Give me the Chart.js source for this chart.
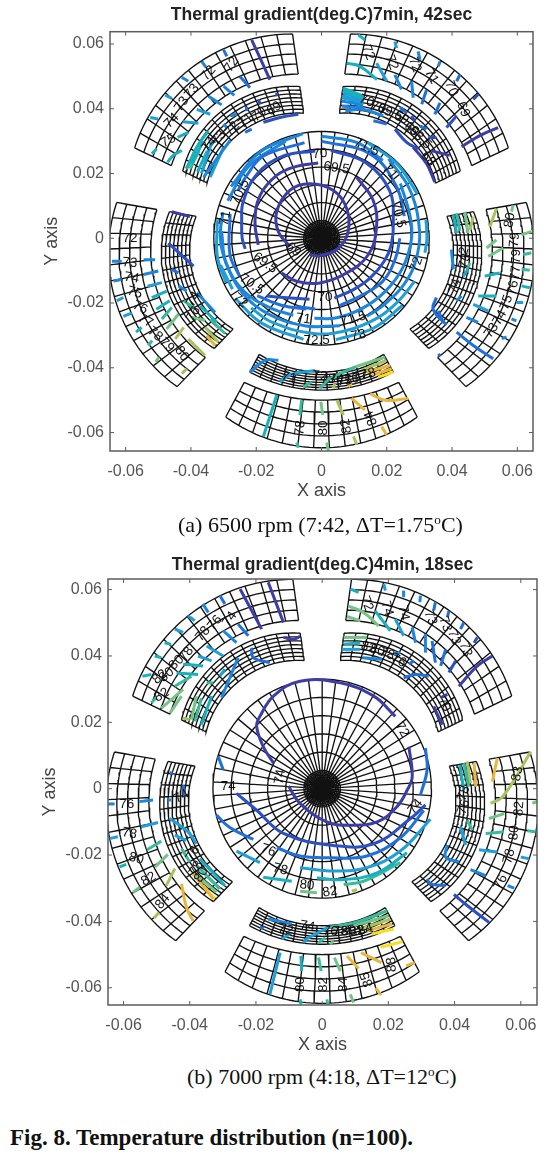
<!DOCTYPE html>
<html>
<head>
<meta charset="utf-8">
<script src="https://cdn.jsdelivr.net/npm/chart.js@4"></script>
<style>
  html, body { margin: 0; padding: 0; background: #fff; }
  body { position: relative; width: 557px; height: 1156px; overflow: hidden; }
  canvas { position: absolute; left: 0; filter: blur(0.35px); }
  #chart-a { top: 0; }
  #chart-b { top: 549px; }
  .cap { position: absolute; font-family: "Liberation Serif", serif; color: #111; white-space: nowrap; }
  .cap sup { font-size: 0.6em; line-height: 0; }
  #cap-a { left: 178px; top: 512px; font-size: 22px; }
  #cap-b { left: 187px; top: 1064px; font-size: 22px; }
  #fig { left: 10px; top: 1125px; font-size: 23px; font-weight: bold; }
</style>
</head>
<body>
<canvas id="chart-a" width="557" height="510"></canvas>
<canvas id="chart-b" width="557" height="510"></canvas>
<div class="cap" id="cap-a">(a) 6500 rpm (7:42, ΔT=1.75<sup>o</sup>C)</div>
<div class="cap" id="cap-b">(b) 7000 rpm (4:18, ΔT=12<sup>o</sup>C)</div>
<div class="cap" id="fig">Fig. 8. Temperature distribution (n=100).</div>
<script>
const tickValues = [-0.06, -0.04, -0.02, 0, 0.02, 0.04, 0.06];

// contour colours, coolest to hottest
const levelColors = ['#3c3da6', '#2b4fc4', '#1f6fdc', '#1b86de', '#1f9fd8', '#18b0bc', '#38bb9c', '#74c486', '#a8c25e', '#e8b63c', '#f6e01e'];

// mesh (mm and degrees)
const padCenters = [126, 54, -18, -90, 198];
const padHalfWidth = 28;
const padColumns = 13;
const outerRows = 4;
const innerRows = 7;
const outerCorner = [51.2, 63.7], outerMid = [52.9, 66];
const innerCorner = [39, 47.3], innerMid = [41, 49.8];
const bottomOuterCorner = [50.4, 62.5], bottomOuterMid = [50, 64.7];
const bottomInnerCorner = [40.6, 46.8], bottomInnerMid = [41.3, 46.9];
const hubRings = [0.5, 1, 1.5, 2, 2.5, 3, 3.5, 4, 4.5, 5];
const discRings = [5.5, 11, 16.5, 22, 27.5, 33];
const discSpokes = 50;

// panel (a): disc contours as [level, [[deg, r mm], ...]]
const arcsA = [
  [0, [[235,6.2],[265,5.4],[329,6],[374,8.4],[410,12],[436,15.2],[462,17.2],[483,17.7],[509,16],[531,13.4],[555,10]]],
  [0, [[186,19.5],[166,21],[145,23],[125,23.8],[109,23.5],[92.5,23.3]]],
  [0, [[60.4,21.7],[36.6,19.7],[10.3,17.1],[-19.6,15.2],[-54.5,13.2],[-92,13.8],[-120,15.3],[-139,16.3]]],
  [1, [[84,27.3],[60,27],[35,25.5],[12,22.5],[-5,21.5],[-20,20.5],[-40,19.3],[-60,18.6],[-78,18.9]]],
  [1, [[94,27],[115,28],[135,28],[155,26.5],[168,25],[180,24.3],[188,23.6]]],
  [1, [[226.7,24.5],[240,21.2],[259,19.2]]],
  [2, [[90,30],[60,30],[35,28],[15,26.3]]],
  [2, [[0,24],[-15,23.5],[-35,23],[-55,21.5],[-75,21.5]]],
  [2, [[-95,21.9],[-110,22.5]]],
  [2, [[100,30],[125,31],[140,30],[150,29.5]]],
  [2, [[165,29],[190,28.5],[205,27.7]]],
  [2, [[222,26.5],[240,24],[258,22.3]]],
  [3, [[90,31.5],[70,31.5],[52,30.5]]],
  [3, [[35,29.5],[15,28],[0,27.6],[-20,26.5],[-40,25.5],[-60,25],[-80,25],[-95,24.8]]],
  [3, [[110,32],[135,31.5],[158,31]]],
  [3, [[176,30.7],[195,30.2],[215,28.8],[235,26.5],[250,25.3]]],
  [3, [[100,32.8],[125,32.6],[150,32]]],
  [3, [[50,32],[30,31],[10,30.2],[-10,29.8],[-30,29],[-50,28],[-60,27.8]]],
  [3, [[-78,27.6],[-100,27.5],[-125,28.5],[-145,29.5],[-165,30.2],[-180,31],[-195,31.3]]],
  [4, [[-25,31.5],[-40,30.5],[-55,30],[-75,29.5],[-95,29.5],[-120,30],[-135,30.5]]],
  [4, [[-150,31.5],[-165,32]]],
  [4, [[10,32.5],[0,32.3],[-8,32]]],
  [4, [[-100,31.7],[-125,32],[-145,32.3]]],
  [4, [[-82,31.6],[-60,32],[-40,32.3]]],
  [4, [[65,32.8],[45,32.6],[25,32.4]]],
  [4, [[170,32.4],[190,32.4],[205,32.3]]],
];

// panel (a): pad contours as [level, [[x mm, y mm], ...]]
const linesA = [
  [0, [[-21.4,61.3],[-15.8,49]]], [2, [[-30,58.2],[-29,56.2]]], [2, [[-25,50],[-21.9,46.5]]],
  [3, [[-36.7,54.6],[-35.5,52.9]]], [3, [[-30,47],[-26.7,44.1]]], [3, [[-42.8,49.7],[-40.8,48.5]]],
  [3, [[-34.6,43.9],[-30.6,41.2]]], [4, [[-47.9,44.2],[-45.9,43.2]]], [4, [[-38.2,39.8],[-34.1,38.3]]],
  [4, [[-52.5,37.3],[-50,36.8]]], [4, [[-42.5,36],[-37.7,35.5]]], [5, [[-44.1,31.2],[-40.8,32.7]]],
  [5, [[-52,26.1],[-50.5,27.6]]], [5, [[-47.2,23.5],[-45.4,25.6],[-42.8,27.1]]],
  [1, [[-17.8,35.8],[-12.7,37.3],[-7.1,38.3]]], [1, [[-13.7,43.9],[-13.7,44.9]]], [1, [[-19.3,42.9],[-18.8,41.4]]],
  [2, [[-23,40.6],[-22.9,39.3]]], [2, [[-23.4,32.7],[-21.4,33.7]]], [3, [[-28,37.8],[-26,38.3]]],
  [3, [[-30,35.3],[-29,34.2]]], [3, [[-28,30.2],[-31,26.1],[-36.1,18.9]]], [4, [[-30,28.1],[-34.1,18.9]]],
  [5, [[-34.7,33.1],[-38.2,28.1],[-41.3,21.5]]], [5, [[-36.2,30.1],[-39.8,23]]], [6, [[-37.5,27],[-40.3,21.5]]],
  [4, [[-33.5,30],[-36.8,20]]], [5, [[-35,27],[-38,20.5]]], [6, [[-39,26],[-41.5,21.5]]],
  [5, [[11.3,62.8],[13.3,61.3]]], [5, [[7.7,54.1],[11.8,53.1],[17,49]]], [4, [[16.9,54.1],[20,48.5]]],
  [4, [[22.5,60.7],[23,58.7]]], [3, [[22.5,50.5],[24.5,46]]], [3, [[29.6,57.7],[30.2,55.1]]],
  [3, [[27.6,48.5],[28.1,43.4]]], [3, [[36.3,54.6],[35.8,53.1]]], [2, [[32.2,45.9],[30.7,41.4]]],
  [2, [[42.4,50.5],[41.4,48.5]]], [2, [[36.3,41.8],[34.7,38.3]]], [1, [[48,44.4],[46.5,42.9]]],
  [1, [[41.4,37.8],[38.3,34.2]]], [0, [[54.1,34.2],[48.5,31.7],[42.9,28.3]]],
  [5, [[6.7,46.4],[12.8,43.9]]], [5, [[6.5,45.6],[12.8,43.3]]], [4, [[6.7,44.9],[12.8,42.9]]], [4, [[6.4,44],[12.8,42.3]]], [4, [[6.2,43.4],[12.8,41.9]]], [3, [[6.2,42.4],[12.8,41.2]]], [3, [[6.2,40.8],[12.8,40.3]]],
  [3, [[7.3,39.3],[12.8,39.8],[18.9,37.8]]], [2, [[15.9,36.3],[20,35.3]]], [2, [[24,40.4],[26.1,38.8]]],
  [2, [[30.2,34.7],[32.2,33.7]]], [1, [[27.6,37.8],[28.6,36.2]]], [1, [[22.5,33.7],[26.1,29.6],[29.6,27.6]]],
  [0, [[28.1,28.1],[32.2,23],[34.7,17.4]]], [1, [[32.7,31.1],[35.2,31.1]]], [0, [[33.7,27],[39.3,25.6]]],
  [6, [[41.4,7.7],[42.4,2.3]]], [5, [[40.4,7.2],[41.4,1.6]]], [7, [[43.9,8.2],[44.9,1.6]]], [8, [[46.5,6.7],[45.5,2.6]]],
  [3, [[39.8,-3.5],[40.4,-9.6]]], [6, [[45.5,-7.6],[44.5,-9.6]]], [4, [[43.4,-11.7],[44.9,-9.6]]], [3, [[41.4,-19.3],[42.9,-17.8]]],
  [2, [[35.2,-18.3],[34.2,-21.9],[38.3,-26.8]]], [2, [[35.8,-22.4],[37.3,-26]]],
  [8, [[53.6,9.2],[51.6,3.6]]], [7, [[58.7,10.2],[58.2,8.2]]], [7, [[64.4,2.1],[61.3,1.1]]], [7, [[53.6,-0.5],[50.6,-3]]],
  [7, [[55.7,-3],[51.1,-5.6]]], [6, [[64.3,-4.5],[61.8,-5]]], [5, [[54.6,-10.7],[50,-11.7]]], [6, [[63.8,-9.9],[61.3,-9.6]]],
  [5, [[53.6,-17.8],[48,-17.8]]], [5, [[63.8,-15.3],[61.3,-14.7]]], [4, [[51.1,-22.4],[46.5,-20.4]]], [4, [[61.8,-19.8],[59.7,-19.8]]],
  [3, [[48,-26],[44.4,-24.4]]], [3, [[59.7,-25.5],[58.2,-24.9]]], [3, [[56.7,-30.5],[55.2,-31]]],
  [2, [[52.6,-37.2],[46.5,-33.1],[41.4,-29]]], [2, [[35.8,-35.7],[36.3,-36.4]]],
  [3, [[-21.9,-41.3],[-17.3,-37.7],[-13.2,-37.7]]], [4, [[-12.7,-44.4],[-10.2,-42.3],[-2,-40.8]]], [6, [[-5.6,-45.9],[-3,-44.4]]],
  [6, [[-0.5,-46.4],[2,-43.8],[10.3,-39.7]]], [8, [[3.6,-46.4],[4.1,-44.9]]], [7, [[10.3,-39.7],[19.5,-36.7]]],
  [8, [[12.2,-40.8],[19.9,-37.7]]], [9, [[13.8,-41.3],[21,-39.3]]], [9, [[15.4,-42.3],[21.5,-40.3]]], [10, [[17.4,-42.9],[22,-41.3]]], [9, [[8.2,-45.9],[9.2,-44.9]]],
  [5, [[-13.7,-48.4],[-17.8,-61.2]]], [6, [[-6.1,-50],[-6.6,-54.6]]], [6, [[-7.6,-63.1],[-7.1,-64.7]]], [7, [[-0.2,-50.5],[0.4,-54.6]]],
  [7, [[1.6,-63.1],[2.1,-65.6]]], [8, [[4.7,-50],[6.7,-54.6]]], [8, [[9.8,-61.2],[10.8,-63.7]]], [9, [[9.2,-49.4],[13.3,-53]]],
  [9, [[18.4,-58.1],[19.9,-60.7]]], [9, [[14.9,-48],[19.5,-50],[26.6,-49.5]]],
  [3, [[-64.2,-7.1],[-61.2,-7.1]]], [3, [[-54.5,-6.6],[-51,-6.6]]], [3, [[-63.7,-13.2],[-61.2,-12.7]]], [3, [[-54.5,-11.2],[-50,-10.1]]],
  [4, [[-62.7,-19.3],[-60.7,-18.3]]], [4, [[-53.3,-14.8],[-48.9,-13.7]]], [4, [[-60.7,-24.1],[-58.1,-23.1]]], [5, [[-52,-18.3],[-47.4,-16.3]]],
  [5, [[-56.8,-29],[-55.1,-27.5]]], [5, [[-50.6,-21.9],[-46.5,-19.3]]], [6, [[-53.1,-33.1],[-51.9,-31.6]]], [6, [[-48.9,-24.9],[-45.9,-21.4]]],
  [7, [[-47.4,-28],[-43.8,-23.4]]], [7, [[-50.8,-38.2],[-49.8,-36.7]]], [8, [[-44.8,-31.1],[-42.2,-27.5]]], [8, [[-42.8,-41.8],[-41.3,-40.3]]], [8, [[-40.8,-31.1],[-35.7,-36.2]]],
  [0, [[-45.9,8.2],[-40.3,6.7]]], [1, [[-46.9,-1.5],[-39.2,-8.6]]], [2, [[-45.9,-9.6],[-43.8,-10.7]]], [3, [[-43.8,-14.7],[-41.3,-16.3]]],
  [3, [[-38.2,-16.8],[-32.6,-22.9]]], [5, [[-37.2,-20.9],[-32.1,-25.9]]], [6, [[-42.2,-19.3],[-39.2,-21.4]]], [7, [[-39.8,-24.4],[-35.7,-25.4]]],
  [6, [[-34.1,-25],[-29.5,-29.5]]], [8, [[-35.7,-27.5],[-31.6,-32.1]]], [9, [[-35.2,-30],[-32.6,-33.1]]],
];

// contour labels as [text, x mm, y mm, rotation deg]
const labelsA = [
  ['69',-8.6,-3.5,40], ['69.5',4.6,21.7,8], ['69.5',-17.3,-7.6,35], ['70',-0.5,26.1,-5], ['70',1.1,-18.3,0],
  ['70.5',23.5,7.2,75], ['70.5',-21.4,-14.2,35], ['70.5',-24.9,14.3,-65], ['71',21,20.5,50], ['71',-29.5,6.2,-80],
  ['71',-5.6,-24.9,8], ['71.5',9.7,-24.9,-15], ['71.5',13.8,28.1,25], ['72',29.1,-8.1,-70], ['72',-24.9,-19.3,40],
  ['72.5',-1.5,-31.4,0], ['73',11.3,-30,-12],
  ['72',-27.5,53.6,-55], ['72',-34.6,51,-50], ['73',-39.7,45.4,-50], ['73',-42.8,41.4,-55], ['74',-45.9,36.3,-45], ['75',-46.9,30.1,-30],
  ['74',-34.4,29,-50], ['73',-31.4,31,-50], ['72',-27.3,33.7,-50], ['71',-23.2,36.3,-40], ['70',-19.1,38.3,-40], ['69',-14.5,40,-35],
  ['72',14.3,57.4,70], ['72',21.5,54.3,70], ['72',28.6,53.6,70], ['71',33.7,50,60], ['70',39.8,46.3,70], ['69',43.4,39.8,70],
  ['70',13.8,42.4,20], ['70',17.4,40.4,20], ['69.5',21,38.8,25], ['69',24.5,37.3,35], ['69',27.6,33.7,40], ['68.5',30.2,31.1,45], ['68',32.7,24.5,50],
  ['80',57.7,5.6,-80], ['79',59.2,-0.5,-85], ['79',59.7,-5.6,-90], ['77',59.5,-10.7,-85], ['76',58.7,-15.3,-80], ['75',56.7,-19.8,-70], ['74',54.6,-24.5,-60], ['73',52.1,-28.5,-55],
  ['72',43.4,-5,-75], ['73',43.9,-7,-75], ['74',40.9,-14.8,-70],
  ['78',-6.5,-58.6,-85], ['80',0.5,-58.6,-90], ['82',7.6,-58,-100], ['84',15.2,-55.6,-110],
  ['71',-10,-43,15], ['72',-0.5,-42.6,5], ['73',2,-43.6,0], ['74',4.6,-43.6,0], ['75',7.1,-44.1,-5], ['76',9.2,-43.6,-10], ['77',11.7,-42.6,-15], ['78',14.3,-42,-15],
  ['72',-58.7,0,0], ['73',-58.7,-7.6,5], ['74',-58.2,-12.2,10], ['75',-57.2,-16.8,15], ['76',-55.6,-21.4,25], ['77',-54,-25.5,30], ['78',-51,-29.6,40], ['79',-47.4,-33,45], ['80',-42.8,-35.7,55],
  ['74',-39.2,-18.8,-60], ['76',-39.2,-23.4,-60],
];

// panel (b)
const arcsB = [];
const linesB = [
  [0, [[-10.2,0.8],[-6.7,-4.4],[1.4,-10],[8.5,-11],[16.6,-10],[22.6,-5.4],[25.7,-0.4],[27.2,3.6],[26.2,12.7]]],
  [0, [[22.1,21.8],[15.6,27.9],[5.5,31.9],[-6.7,32.4],[-14.7,27.9],[-18.8,21.8],[-19.8,18.8],[-17.8,12.7],[-14.7,7.7]]],
  [2, [[31.2,12.2],[31.7,5.7],[29.7,-1.9]]], [2, [[-31.4,9.7],[-29.9,5.7]]],
  [1, [[-25.9,-1.4],[-19.8,-6.5],[-11.7,-13.5],[3.4,-17.1],[15.6,-16.6],[26.7,-9],[31.2,-4.9]]],
  [2, [[-31.9,-8],[-27.9,-11.7],[-20.8,-15.3]]], [2, [[-13.7,-17.8],[-6.7,-20.3],[2.4,-20.8],[13.5,-20.3],[23.6,-14.8],[30.7,-6.6]]],
  [4, [[-25.9,-18.8],[-18.8,-22.3]]], [4, [[-6.7,-23.8],[3.4,-24.8],[13.5,-23.8],[23.6,-18.8],[32.7,-9.2]]],
  [5, [[-17.8,-26.7],[-9.2,-27.9]]], [5, [[-1.6,-26.9],[6.5,-27.4],[16.6,-25.4],[25.6,-19.3]]],
  [6, [[6.5,-28.9],[12.5,-27.9],[23.6,-22.3]]], [7, [[-6.7,-30.9],[-1.6,-31.4]]], [8, [[9,-30.9],[10.5,-30.4]]],
  [0, [[-24.8,60.2],[-18.3,48.1]]], [0, [[-16.3,62.2],[-11.7,50.1]]], [2, [[-30.9,58.2],[-29.4,55.7]]], [2, [[-25.4,49.6],[-22.3,46.1]]],
  [3, [[-36,55.7],[-34.4,53.1]]], [3, [[-29.9,47.6],[-25.9,44]]], [4, [[-40.5,52.1],[-38.5,50.6]]], [4, [[-34.9,43],[-29.9,40]]],
  [4, [[-44.5,48.1],[-42,47.1]]], [4, [[-37.5,40],[-33.4,38.5]]], [5, [[-47.6,44],[-45.6,43.5]]], [5, [[-50.6,40],[-48.6,39.5]]],
  [5, [[-42,37.5],[-36,37]]], [5, [[-54.3,33.9],[-51.6,34.4]]], [5, [[-44,34.9],[-37.5,34.4]]], [6, [[-44.5,30.9],[-39.5,33.9]]],
  [6, [[-51.6,25.9],[-50.1,27.4]]], [7, [[-48.6,24.3],[-42,29.9]]], [7, [[-46,22.8],[-42.5,27.9]]],
  [8, [[-42,21.3],[-40,20.8]]], [7, [[-39.5,20.8],[-38,27.9]]], [6, [[-38.4,20.3],[-36.5,27.3]]], [5, [[-36.5,19.3],[-33.4,27.9]]],
  [3, [[-30.4,27.4],[-25.4,39.5]]], [4, [[-30.9,33.9],[-29.4,36]]], [6, [[-34.9,31.9],[-32.9,31.9]]],
  [2, [[-21.3,42.5],[-20.8,39.5],[-15.8,38]]], [0, [[-11.7,45.6],[-8.7,45],[-6.7,45.9]]],
  [5, [[8.5,60.2],[11,59.2]]], [7, [[8,55],[12.5,53.1],[17,49.1]]], [7, [[7.5,51.9],[11.5,50.6]]], [5, [[16,53.6],[20.6,47.6]]],
  [4, [[18.6,61.7],[19.1,59.7]]], [4, [[22.1,51.1],[24.6,46.1]]], [3, [[24.6,59.7],[24.6,57.7]]], [3, [[27.2,48.6],[28.2,44]]],
  [3, [[29.7,58.2],[29.5,56.2]]], [3, [[31.2,46.6],[31.2,41]]], [2, [[34.2,56.2],[33.7,53.7]]], [2, [[33.2,44.5],[34.2,38]]],
  [2, [[38.3,53.6],[37.8,51.6]]], [2, [[37.3,42],[35.8,37]]], [2, [[42.8,50.1],[41.8,48.1]]], [1, [[40.3,38.5],[38.3,35]]],
  [1, [[46.9,45.6],[45.9,44]]], [0, [[51.4,40],[46.9,37],[41.3,30.9]]],
  [7, [[6.5,45.6],[13.5,45.6]]], [5, [[6.5,43.5],[11.5,44]]], [4, [[5.9,42],[11.5,42]]], [3, [[12.1,39.5],[18.1,39]]],
  [3, [[21.6,40.5],[23.6,41]]], [2, [[26.2,37.5],[27.7,38.5]]], [2, [[24.6,33.4],[28.2,34.4],[32.2,33.9]]], [0, [[33.7,24.8],[36.3,19.3]]], [0, [[35.8,27.4],[37.8,28.4]]],
  [5, [[41.6,7.2],[42.8,-0.4]]], [6, [[42.8,7.7],[44.3,0.6]]], [8, [[43.8,8.2],[44.8,1.6]]], [9, [[45.9,7.7],[46.4,0.6]]],
  [4, [[41.8,-11.5],[43.3,-17]]], [6, [[43.8,-9.5],[45.4,-12.5]]], [3, [[37.8,-17],[37.3,-20.6],[41.3,-22.1]]], [2, [[31.7,-27.2],[32.7,-28.7],[37.3,-29.2]]],
  [9, [[52.9,9.2],[51.4,2.1]]], [8, [[63,11.2],[58,2.6],[54,-2.9],[50.9,-4.4]]], [7, [[63.5,-4.4],[65,-3.9]]], [7, [[55,-7.5],[50.4,-9]]],
  [6, [[54.9,-13],[49.4,-13.5]]], [6, [[64.5,-13],[62,-12.7]]], [4, [[52.9,-19.1],[47.4,-18.4]]], [4, [[62.5,-21.1],[60,-20.6]]],
  [3, [[49.4,-26.2],[44.8,-24.4]]], [3, [[58,-30],[56,-29.2]]], [1, [[50.4,-40.3],[43.8,-35.2],[39.8,-31.9]]],
  [2, [[-18.8,-41.8],[-17.6,-42]]], [3, [[-16.3,-39.3],[-9.2,-40.8]]], [4, [[-12.2,-45.3],[-9.7,-43.8]]], [4, [[-5.7,-46.4],[-4.1,-44.9],[1.9,-41.8]]],
  [6, [[-1.1,-46.4],[0.9,-44.9]]], [7, [[2.4,-46.9],[3.4,-45.9]]], [6, [[1.9,-41.8],[10,-40.3],[19.6,-36.8]]], [7, [[9.5,-41.3],[20.1,-38.3]]],
  [8, [[11.6,-42.3],[20.6,-39.3]]], [9, [[13.5,-42.8],[21.1,-40.8]]], [10, [[15,-43.8],[21.6,-42.3]]],
  [4, [[-12.7,-49.4],[-15.8,-62]]], [5, [[-6.4,-50.4],[-6.2,-55]]], [5, [[-6.7,-63.5],[-6.4,-65]]], [6, [[-1.1,-50.9],[-0.3,-55]]],
  [6, [[1.4,-63.5],[1.9,-65.5]]], [7, [[3.7,-50.9],[5.5,-55]]], [7, [[8.5,-62],[9.5,-64.5]]], [9, [[7.5,-50.4],[11,-54.2]]],
  [9, [[16.1,-60],[17.8,-62.2]]], [9, [[11.7,-49.4],[17.9,-52.4]]], [10, [[17.6,-47.8],[24.3,-46.1]]], [9, [[25.4,-53.4],[28,-52.4]]],
  [3, [[-64.7,-4.6],[-62.7,-4.6]]], [3, [[-55.2,-3.9],[-51.1,-3.4]]], [4, [[-64.2,-15],[-61.7,-14.5]]], [4, [[-54.7,-11.5],[-49.6,-10.2]]],
  [5, [[-61.2,-23.6],[-59.2,-22.8]]], [6, [[-52.9,-18.4],[-48.6,-15.8]]], [7, [[-57.1,-31.2],[-55.1,-29.7]]], [7, [[-50.5,-23.6],[-46.6,-19.8]]],
  [8, [[-47.1,-29.2],[-44.5,-24.1]]], [8, [[-50.8,-39],[-49.3,-37.3]]], [9, [[-42.5,-28.7],[-41,-35.8],[-39,-39.8]]],
  [2, [[-45.6,5.2],[-45.6,4.2]]], [2, [[-42,1.1],[-41.6,-2.4]]], [3, [[-46.6,-3.4],[-45.6,-3.4]]], [4, [[-46.1,-9],[-40.5,-13],[-38,-16.6]]],
  [4, [[-44.5,-14],[-41,-15.6]]], [6, [[-42.5,-18.1],[-40,-22.1]]], [5, [[-37,-21.1],[-29.4,-29.2]]], [6, [[-38,-23.1],[-30.9,-30.2]]],
  [7, [[-38.4,-25.6],[-31.9,-31.2]]], [9, [[-39,-25.7],[-32.9,-33.2]]], [10, [[-36,-29.2],[-32.4,-33.2]]],
];
const labelsB = [
  ['74',-12.7,3.6,-80], ['72',24.1,17.8,60], ['74',28.2,-5.4,-50], ['76',-16.3,-18.6,20], ['78',-12.7,-24.3,15], ['80',-4.6,-29.1,5], ['82',2.4,-31.1,-10], ['74',-28.4,0.6,0],
  ['74',-27.9,51.1,-55], ['76',-32.4,50,-50], ['78',-36,46.7,-50], ['78',-41,40.5,-55], ['80',-44,38,-45], ['80',-47,34.3,-40], ['82',-49,33.7,-40], ['82',-48.5,28.2,-30],
  ['72',13.5,55.8,70], ['74',19.6,54.3,75], ['74',24.6,53,80], ['73',32.7,51.5,70], ['73',37.2,49.6,70], ['73',39.8,45.6,70], ['73',43.3,42,70],
  ['82',14,42.6,15], ['80',16.6,41.6,15], ['78',19.6,40.6,20], ['76',23.1,38.6,30], ['70',36.8,25.4,55],
  ['83',59,4.5,-80], ['82',59.5,-6,-85], ['80',58,-13.3,-85], ['78',56.5,-20.4,-75], ['76',54,-28.2,-65],
  ['78',42.8,-1.4,-70], ['76',42.8,-5.5,-70],
  ['80',-6.7,-59,-90], ['82',0.4,-59,-90], ['84',6.5,-59,-90], ['85',13.5,-57.5,-110], ['88',21,-53,-95],
  ['72',-11,-42.5,15], ['74',-4.5,-41.5,10], ['76',2.5,-43,5], ['78',5.5,-43,0], ['80',8,-43,-5], ['82',10.5,-43,-10], ['84',13,-42.5,-15],
  ['76',-59,-4.6,0], ['78',-58.2,-13.5,10], ['80',-56.2,-21.1,15], ['82',-52.4,-27.2,-30], ['84',-48.2,-34,-50],
  ['74',-42.5,-2.4,-30], ['76',-39,-19.6,-60], ['78',-38,-24,-60], ['80',-36.5,-26,-60],
];

function polar(deg, r) {
  const t = deg * Math.PI / 180;
  return { x: r * Math.cos(t) / 1000, y: r * Math.sin(t) / 1000 };
}

// pad edges bulge away from the hub, hence corner and mid radius
function padRadius(corner, mid, u) {
  return corner + (mid - corner) * (1 - u * u);
}

function padMesh(center, corner, mid, rows) {
  const pts = [];
  const gap = { x: NaN, y: NaN };
  const at = (col, row) => {
    const u = col / padColumns * 2 - 1;
    const r0 = padRadius(corner[0], mid[0], u);
    const r1 = padRadius(corner[1], mid[1], u);
    return polar(center + u * padHalfWidth, r0 + (r1 - r0) * row / rows);
  };
  for (let row = 0; row <= rows; row++) {
    for (let col = 0; col <= padColumns; col += 0.25) pts.push(at(col, row));
    pts.push(gap);
  }
  for (let col = 0; col <= padColumns; col++) {
    for (let row = 0; row <= rows; row++) pts.push(at(col, row));
    pts.push(gap);
  }
  return pts;
}

function buildMesh() {
  const pts = [];
  const gap = { x: NaN, y: NaN };
  padCenters.forEach((c) => {
    const bottom = c === -90;
    pts.push(...padMesh(c, bottom ? bottomOuterCorner : outerCorner, bottom ? bottomOuterMid : outerMid, outerRows));
    pts.push(...padMesh(c, bottom ? bottomInnerCorner : innerCorner, bottom ? bottomInnerMid : innerMid, innerRows));
  });
  [...hubRings, ...discRings].forEach((r) => {
    for (let a = 0; a <= 360; a += 4) pts.push(polar(a, r));
    pts.push(gap);
  });
  for (let i = 0; i < discSpokes; i++) {
    const a = -90 + i * 360 / discSpokes;
    pts.push({ x: 0, y: 0 }, polar(a, discRings[discRings.length - 1]), gap);
  }
  return pts;
}

function contourDataset(level, data, tension) {
  return { data, borderColor: levelColors[level], borderWidth: 3, tension, order: 1, showLine: true, pointRadius: 0, borderCapStyle: 'butt' };
}

// box with inward ticks on all four sides, as MATLAB does it
const framePlugin = {
  id: 'frame',
  afterDatasetsDraw(chart) {
    const { ctx, chartArea: a, scales: { x, y } } = chart;
    ctx.save();
    ctx.strokeStyle = '#5c5c5c';
    ctx.lineWidth = 1.5;
    ctx.strokeRect(a.left, a.top, a.right - a.left, a.bottom - a.top);
    ctx.lineWidth = 1;
    ctx.beginPath();
    tickValues.forEach((v) => {
      const px = x.getPixelForValue(v), py = y.getPixelForValue(v);
      ctx.moveTo(px, a.bottom); ctx.lineTo(px, a.bottom - 4);
      ctx.moveTo(px, a.top); ctx.lineTo(px, a.top + 4);
      ctx.moveTo(a.left, py); ctx.lineTo(a.left + 4, py);
      ctx.moveTo(a.right, py); ctx.lineTo(a.right - 4, py);
    });
    ctx.stroke();
    ctx.restore();
  },
};

function labelPlugin(labels) {
  return {
    id: 'contourLabels',
    afterDatasetsDraw(chart) {
      const { ctx, scales: { x, y } } = chart;
      ctx.save();
      ctx.fillStyle = '#111';
      ctx.font = '13.5px "Liberation Sans"';
      ctx.textAlign = 'center';
      ctx.textBaseline = 'middle';
      labels.forEach(([text, lx, ly, rot]) => {
        ctx.save();
        ctx.translate(x.getPixelForValue(lx / 1000), y.getPixelForValue(ly / 1000));
        ctx.rotate(rot * Math.PI / 180);
        ctx.fillText(text, 0, 0);
        ctx.restore();
      });
      ctx.restore();
    },
  };
}

function renderPanel(id, opts) {
  const datasets = [
    { data: buildMesh(), borderColor: '#111', borderWidth: 1.35, order: 5, showLine: true, pointRadius: 0 },
    ...opts.arcs.map(([lv, pts]) => contourDataset(lv, pts.map(([d, r]) => polar(d, r)), 0.4)),
    ...opts.lines.map(([lv, pts]) => contourDataset(lv, pts.map(([px, py]) => ({ x: px / 1000, y: py / 1000 })), 0.4)),
  ];
  const tickStyle = { color: '#555', font: { size: 16, family: '"Liberation Sans"' }, autoSkip: false, maxRotation: 0, minRotation: 0 };
  const fixTicks = (s) => { s.ticks = tickValues.map((v) => ({ value: v })); };
  const fmt = (v) => (v === 0 ? '0' : String(v));
  new Chart(document.getElementById(id), {
    type: 'scatter',
    data: { datasets },
    plugins: [framePlugin, labelPlugin(opts.labels)],
    options: {
      responsive: false,
      animation: false,
      layout: { padding: { right: opts.rightPad, top: 0, left: 0, bottom: 0 } },
      plugins: {
        legend: { display: false },
        tooltip: { enabled: false },
        title: { display: true, fullSize: false, text: opts.title, color: '#222', font: { size: 17.5, weight: 'bold', family: '"Liberation Sans"' }, padding: { top: opts.titleTop, bottom: opts.titleBottom } },
      },
      scales: {
        x: {
          type: 'linear', min: opts.xLim[0], max: opts.xLim[1],
          afterBuildTicks: fixTicks,
          afterFit: (s) => { s.height = opts.xHeight; },
          grid: { display: false, drawTicks: false }, border: { display: false },
          ticks: { ...tickStyle, padding: 11, callback: fmt },
          title: { display: true, text: 'X axis', color: '#444', font: { size: 18, family: '"Liberation Sans"' }, padding: { top: 0, bottom: opts.xTitlePad } },
        },
        y: {
          type: 'linear', min: opts.yLim[0], max: opts.yLim[1],
          afterBuildTicks: fixTicks,
          afterFit: (s) => { s.width = opts.yWidth; },
          grid: { display: false, drawTicks: false }, border: { display: false },
          ticks: { ...tickStyle, padding: 6, callback: fmt },
          title: { display: true, text: 'Y axis', color: '#444', font: { size: 18, family: '"Liberation Sans"' }, padding: { top: opts.yTitlePad, bottom: 0 } },
        },
      },
    },
  });
}

renderPanel('chart-a', {
  title: 'Thermal gradient(deg.C)7min, 42sec', arcs: arcsA, lines: linesA, labels: labelsA,
  xLim: [-0.0648, 0.0648], yLim: [-0.0657, 0.0638], yWidth: 110, xHeight: 59, rightPad: 24, titleTop: 5, titleBottom: 5.7, xTitlePad: 8, yTitlePad: 41,
});
renderPanel('chart-b', {
  title: 'Thermal gradient(deg.C)4min, 18sec', arcs: arcsB, lines: linesB, labels: labelsB,
  xLim: [-0.0647, 0.0649], yLim: [-0.0652, 0.0632], yWidth: 108, xHeight: 54, rightPad: 20, titleTop: 6, titleBottom: 3, xTitlePad: 3, yTitlePad: 39,
});
</script>
</body>
</html>
